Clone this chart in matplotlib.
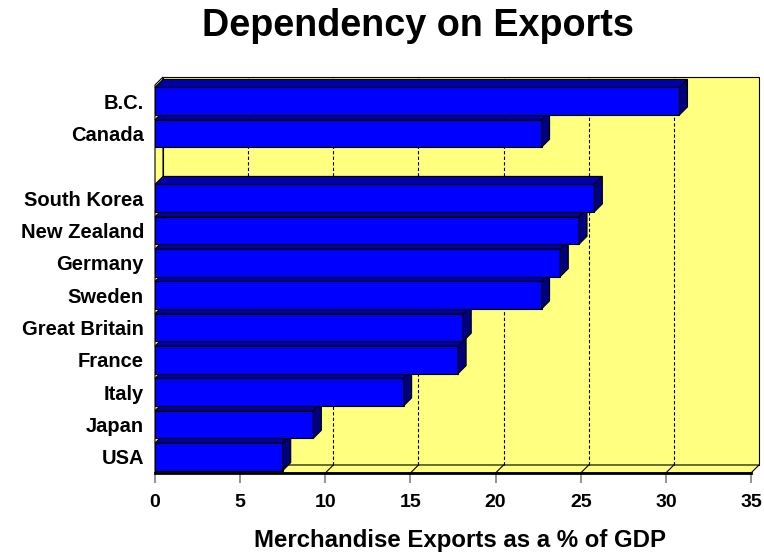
import matplotlib
matplotlib.use("Agg")
import matplotlib.pyplot as plt
from matplotlib.patches import Polygon

# chart data, top row first (blank row is the gap between B.C./Canada and the rest)
regions = ['B.C.', 'Canada', '', 'South Korea', 'New Zealand', 'Germany',
           'Sweden', 'Great Britain', 'France', 'Italy', 'Japan', 'USA']
exports_pct = [30.8, 22.7, None, 25.8, 24.9, 23.8, 22.7, 18.1, 17.8, 14.6, 9.3, 7.5]
xticks = [0, 5, 10, 15, 20, 25, 30, 35]

plt.rcParams['font.family'] = ['Liberation Sans', 'DejaVu Sans']
plt.rcParams['font.weight'] = 'bold'

front = '#0000ff'
top = '#0000aa'
side = '#000080'
wall = '#ffff80'

fig = plt.figure(figsize=(7.64, 5.54), dpi=100)
ax = fig.add_axes([155/764, 81/554, 596/764, 388/554])
n = len(regions)
xmax = xticks[-1]
ax.set_xlim(0, xmax)
ax.set_ylim(-0.5, n - 0.5)
ax.patch.set_visible(False)
for s in ax.spines.values():
    s.set_visible(False)

# depth of the 3d look, 8 px right and 8 px up
dx = xmax * 8 / 596
dy = n * 8 / 388
y0, y1 = -0.5, n - 0.5

back = Polygon([(dx, y0+dy), (xmax+dx, y0+dy), (xmax+dx, y1+dy), (dx, y1+dy)],
               fc=wall, ec='black', lw=0.8, clip_on=False, zorder=1)
left = Polygon([(0, y0), (dx, y0+dy), (dx, y1+dy), (0, y1)],
               fc=wall, ec='black', lw=0.8, clip_on=False, zorder=1)
floor = Polygon([(0, y0), (xmax, y0), (xmax+dx, y0+dy), (dx, y0+dy)],
                fc=wall, ec='black', lw=0.8, clip_on=False, zorder=1)
for p in (back, left, floor):
    ax.add_patch(p)
ax.plot([0, xmax], [y0, y0], color='black', lw=2, clip_on=False, zorder=2)

for t in xticks[1:-1]:
    ax.plot([t+dx, t+dx], [y0+dy, y1+dy], color='black', lw=0.8,
            ls=(0, (3, 2)), clip_on=False, zorder=2)
    ax.plot([t, t+dx], [y0, y0+dy], color='black', lw=0.8, clip_on=False, zorder=2)

h = 0.85
ypos = [n - 1 - i for i in range(n)]
for i in reversed(range(n)):
    v = exports_pct[i]
    if v is None:
        continue
    y = ypos[i]
    z = 3 + (n - i)
    ax.barh(y, v, height=h, color=front, edgecolor='black', lw=0.8, zorder=z)
    ax.add_patch(Polygon([(0, y+h/2), (v, y+h/2), (v+dx, y+h/2+dy), (dx, y+h/2+dy)],
                         fc=top, ec='black', lw=0.8, clip_on=False, zorder=z))
    ax.add_patch(Polygon([(v, y-h/2), (v+dx, y-h/2+dy), (v+dx, y+h/2+dy), (v, y+h/2)],
                         fc=side, ec='black', lw=0.8, clip_on=False, zorder=z))

ax.set_yticks(ypos)
ax.set_yticklabels(regions, fontsize=14.5, fontweight='bold')
ax.tick_params(axis='y', length=0, pad=8)
ax.set_xticks(xticks)
ax.set_xticklabels([str(t) for t in xticks], fontsize=14, fontweight='bold')
ax.tick_params(axis='x', length=7, color='#808080', width=1.2, pad=8)

fig.text(0.5465, 1 - 36/554, 'Dependency on Exports', ha='center', va='baseline',
         fontsize=27.2, fontweight='bold')
fig.text(460/764, 1 - 547/554, 'Merchandise Exports as a % of GDP', ha='center',
         va='baseline', fontsize=17.3, fontweight='bold')

fig.savefig('out.png', dpi=100, facecolor='white')
